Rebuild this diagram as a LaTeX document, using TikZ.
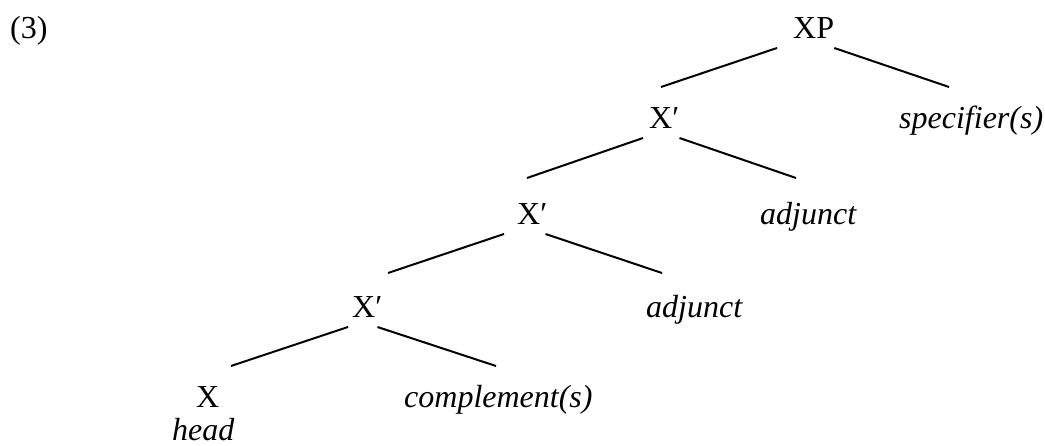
\documentclass[tikz,border=0pt]{standalone}
\usepackage{fontspec}
\setmainfont{Liberation Serif}
\usepackage{tikz}
\newcommand{\xprime}{X′}

\begin{document}
\begin{tikzpicture}[x=1pt,y=-1pt,
			cat/.style={anchor=base west, inner sep=0pt, font=\fontsize{32}{38}\selectfont},
			role/.style={cat, font=\fontsize{32}{38}\selectfont\itshape},
			branch/.style={line width=2pt}]
  \useasboundingbox (0,0) rectangle (1045,446);
  \node [cat] (ex) at (10,39) {(3)};
  \node [cat] (xp) at (793,39) {XP};
  \node [cat] (xbarA) at (649,129) {\xprime};
  \node [role] (spec) at (899,129) {specifier(s)};
  \node [cat] (xbarB) at (517,225) {\xprime};
  \node [role] (adjA) at (760,225) {adjunct};
  \node [cat] (xbarC) at (352,318) {\xprime};
  \node [role] (adjB) at (646,318) {adjunct};
  \node [cat] (head) at (196,408) {X};
  \node [role] (comp) at (404,408) {complement(s)};
  \node [role] (headlbl) at (172,440) {head};
  % branches
  \draw [branch] ([shift={(-16,9)}]xp.base west) -- ([shift={(12,-42)}]xbarA.base west);
  \draw [branch] ([shift={(0,9)}]xp.base east) -- ([shift={(50,-42)}]spec.base west);
  \draw [branch] ([shift={(-6,9)}]xbarA.base west) -- ([shift={(10,-47)}]xbarB.base west);
  \draw [branch] ([shift={(0,9)}]xbarA.base east) -- ([shift={(36,-47)}]adjA.base west);
  \draw [branch] ([shift={(-13,9)}]xbarB.base west) -- ([shift={(36,-45)}]xbarC.base west);
  \draw [branch] ([shift={(-2,9)}]xbarB.base east) -- ([shift={(16,-45)}]adjB.base west);
  \draw [branch] ([shift={(-4,9)}]xbarC.base west) -- ([shift={(35,-42)}]head.base west);
  \draw [branch] ([shift={(-5,9)}]xbarC.base east) -- ([shift={(92,-42)}]comp.base west);
\end{tikzpicture}
\end{document}
